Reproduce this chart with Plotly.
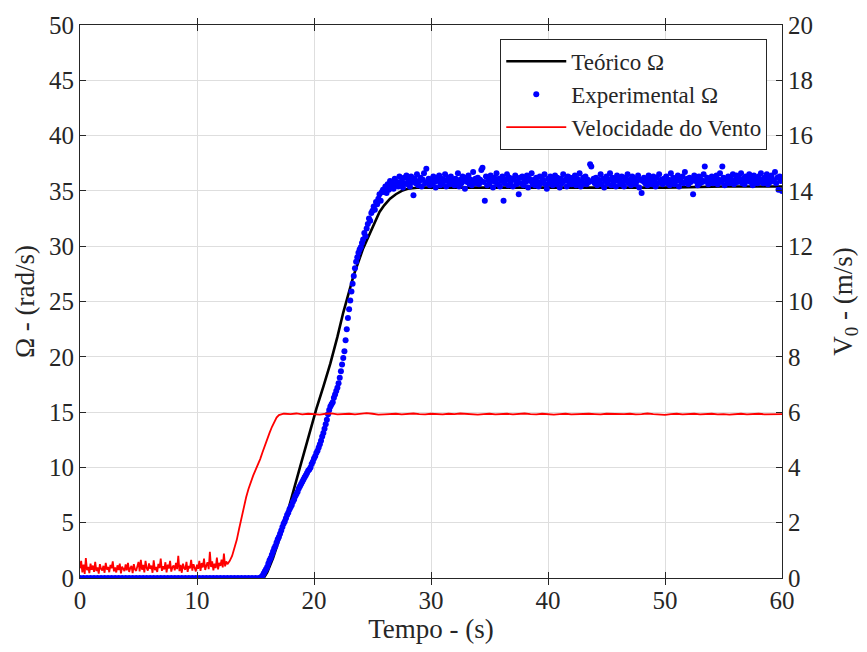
import plotly.graph_objects as go

# ---------------- data ----------------
# Theoretical rotor speed (rad/s)
t_theo = [0, 15.7, 16.0, 16.5, 17.0, 17.7, 18.8, 20.2, 20.8, 21.4, 22.0, 22.5, 23.0, 23.4,
          24.2, 25.1, 25.6, 26.0, 26.5, 27.0, 27.5, 28.0, 29.0, 30, 40, 50, 55, 60]
omega_theo = [0, 0, 0.5, 1.8, 3.4, 5.8, 10.0, 15.3, 17.3, 19.4, 21.8, 24.0, 25.9, 27.4,
              29.8, 31.9, 33.1, 33.7, 34.3, 34.7, 35.0, 35.2, 35.3, 35.3, 35.3, 35.3, 35.4, 35.4]

# Experimental rotor speed (rad/s)
t_exp_idle_start, t_exp_idle_step = 0.0, 0.3
omega_exp_idle = [0.0, 0.0, 0.0, 0.0, 0.0, 0.0, 0.0, 0.0, 0.0, 0.0, 0.0, 0.0, 0.0,
                  0.0, 0.0, 0.0, 0.0, 0.0, 0.0, 0.0, 0.0, 0.0, 0.0, 0.0, 0.0, 0.0,
                  0.0, 0.0, 0.0, 0.0, 0.0, 0.0, 0.0, 0.0, 0.0, 0.0, 0.0, 0.0, 0.0,
                  0.0, 0.0, 0.0, 0.0, 0.0, 0.0, 0.0, 0.0, 0.0, 0.0, 0.0, 0.0, 0.0]
t_exp_ramp_start, t_exp_ramp_step = 15.4, 0.1
omega_exp_ramp = [
    0.0, 0.1, 0.2, 0.4, 0.6, 0.8,
    1.0, 1.3, 1.6, 1.8, 2.1, 2.4, 2.7, 2.9, 3.2, 3.5,
    3.7, 4.0, 4.3, 4.6, 4.9, 5.1, 5.4, 5.7, 5.9, 6.2,
    6.4, 6.6, 6.9, 7.1, 7.4, 7.6, 7.8, 8.1, 8.3, 8.5,
    8.7, 8.9, 9.1, 9.3, 9.5, 9.7, 9.8, 10.0, 10.3, 10.5,
    10.8, 11.0, 11.3, 11.5, 11.8, 12.1, 12.4, 12.8, 13.1, 13.5,
    13.9, 14.3, 14.8, 15.2, 15.5, 15.7, 15.9, 16.3, 16.6, 16.9,
    17.2, 17.6, 18.1, 18.7, 19.3, 19.9, 20.5, 21.5, 22.5, 23.5,
    24.3, 25.1, 25.9, 26.6, 27.3, 28.0, 28.6, 29.0, 29.4, 29.7,
    29.9, 30.3, 30.6, 31.2, 30.9, 31.6, 32.0, 32.5, 32.3, 33.0,
    33.2, 33.6, 33.3, 34.0, 33.8, 34.3, 34.7, 34.1, 34.9, 35.1]
t_exp_steady_start, t_exp_steady_step = 26.0, 0.1
omega_exp_steady = [
    34.9, 35.4, 34.8, 35.6, 35.1, 35.9, 35.3, 35.7, 35.2, 36.1, 35.5, 35.8, 35.4, 36.3, 35.6, 35.9, 35.3, 36.2, 35.7, 36.4,
    35.6, 36.0, 35.4, 36.3, 35.8, 34.6, 36.1, 35.7, 36.5, 35.5, 35.9, 36.2, 35.4, 36.0, 36.6, 35.7, 37.0, 35.8, 36.1, 35.5,
    36.0, 35.6, 36.3, 35.8, 35.3, 36.2, 35.9, 36.4, 35.5, 36.1, 35.7, 36.0, 36.5, 35.4, 35.9, 36.2, 35.6, 36.3, 35.8, 36.0,
    35.5, 36.1, 35.8, 36.6, 35.4, 36.0, 35.7, 36.3, 35.9, 35.2, 36.2, 35.8, 36.4, 35.6, 36.0, 35.5, 36.7, 35.9, 36.1, 35.7,
    36.2, 35.6, 36.0, 36.9, 37.1, 35.8, 34.1, 36.3, 35.5, 36.0, 35.7, 36.4, 35.9, 35.3, 36.2, 35.8, 36.6, 35.6, 36.1, 35.4,
    35.9, 36.3, 34.1, 35.7, 36.0, 36.5, 35.5, 36.2, 35.8, 36.1, 35.4, 36.0, 36.4, 35.6, 35.9, 34.7, 36.2, 35.7, 36.3, 35.5,
    36.0, 35.8, 36.4, 35.3, 36.1, 35.9, 36.6, 35.6, 36.0, 35.5, 36.2, 35.8, 35.4, 36.3, 35.7, 36.1, 35.9, 36.5, 35.6, 35.2,
    36.1, 35.7, 36.3, 35.9, 35.5, 36.0, 36.4, 35.6, 36.2, 35.8, 35.3, 36.1, 35.7, 36.5, 35.9, 36.0, 35.4, 36.3, 35.8, 36.2,
    35.6, 36.0, 35.9, 36.4, 35.5, 36.1, 35.8, 36.6, 35.4, 35.9, 36.2, 35.7, 36.3, 35.6, 36.0, 35.8, 37.4, 37.2, 35.9, 36.1,
    35.7, 36.2, 35.5, 36.0, 35.8, 36.5, 35.6, 36.1, 35.3, 35.9, 36.3, 35.7, 36.0, 36.6, 35.5, 36.2, 35.8, 36.0, 35.4, 36.4,
    35.9, 36.1, 35.6, 36.3, 35.8, 35.4, 36.2, 35.9, 36.5, 35.7, 36.0, 35.5, 36.3, 35.8, 36.1, 35.6, 35.9, 36.4, 35.3, 36.0,
    34.8, 35.9, 36.2, 35.7, 36.0, 35.5, 36.4, 35.8, 36.1, 35.6, 36.3, 35.9, 35.4, 36.2, 35.7, 36.5, 35.8, 36.0, 35.6, 36.1,
    35.9, 36.3, 35.7, 36.0, 35.5, 36.6, 35.8, 36.2, 35.6, 36.1, 35.9, 36.4, 35.4, 36.0, 35.8, 36.3, 35.7, 36.7, 35.9, 36.1,
    35.6, 36.2, 35.8, 36.0, 34.7, 36.4, 35.9, 36.1, 35.5, 36.3, 35.7, 36.0, 35.8, 36.5, 37.2, 35.9, 36.2, 35.6, 36.0, 35.8,
    36.3, 35.7, 36.1, 35.9, 36.4, 35.6, 36.0, 36.6, 35.8, 37.2, 36.2, 35.5, 36.0, 35.9, 36.3, 35.7, 36.1, 35.8, 36.5, 35.6,
    36.0, 36.4, 35.8, 36.2, 35.9, 36.6, 35.7, 36.1, 35.6, 36.3, 35.9, 36.0, 36.5, 35.8, 36.2, 35.5, 36.4, 35.9, 36.1, 35.7,
    36.3, 35.8, 36.6, 36.0, 35.7, 36.2, 35.9, 36.5, 35.6, 36.1, 35.8, 36.4, 36.0, 35.9, 36.7, 35.7, 36.2, 35.1, 36.3, 35.9,
    35.0]

# Wind speed (m/s)
t_wind_idle_start, t_wind_idle_step = 0.0, 0.1
wind_idle = [
    0.35, 0.62, 0.20, 0.48, 0.15, 0.72, 0.28, 0.40, 0.18, 0.52,
    0.30, 0.45, 0.22, 0.58, 0.25, 0.38, 0.16, 0.50, 0.33, 0.27,
    0.44, 0.19, 0.55, 0.30, 0.40, 0.21, 0.47, 0.35, 0.60, 0.24,
    0.38, 0.20, 0.46, 0.29, 0.52, 0.17, 0.41, 0.33, 0.25, 0.49,
    0.28, 0.55, 0.22, 0.36, 0.44, 0.18, 0.50, 0.31, 0.26, 0.42,
    0.58, 0.24, 0.66, 0.30, 0.47, 0.20, 0.62, 0.35, 0.27, 0.53,
    0.33, 0.45, 0.19, 0.64, 0.28, 0.40, 0.22, 0.51, 0.36, 0.70,
    0.26, 0.43, 0.31, 0.57, 0.20, 0.48, 0.34, 0.62, 0.23, 0.39,
    0.45, 0.28, 0.55, 0.32, 0.80, 0.25, 0.47, 0.19, 0.52, 0.36,
    0.30, 0.58, 0.22, 0.44, 0.35, 0.66, 0.27, 0.50, 0.40, 0.24,
    0.48, 0.33, 0.62, 0.26, 0.54, 0.38, 0.70, 0.29, 0.45, 0.57,
    0.32, 0.95, 0.40, 0.60, 0.28, 0.52, 0.36, 0.74, 0.31, 0.55,
    0.44, 0.66, 0.38, 0.88, 0.42, 0.60]
t_wind_ramp_start, t_wind_ramp_step = 12.6, 0.2
wind_ramp = [0.50, 0.62, 0.80, 1.05, 1.38, 1.78, 2.18, 2.56, 2.92, 3.22, 3.48, 3.70, 3.90,
             4.08, 4.30, 4.55, 4.80, 5.02, 5.25, 5.46, 5.65, 5.80, 5.89, 5.93, 5.94]
t_wind_steady_start, t_wind_steady_step = 17.5, 0.5
wind_steady = [
    5.94, 5.93, 5.95, 5.92, 5.94, 5.93, 5.91, 5.94, 5.95, 5.92,
    5.93, 5.94, 5.92, 5.93, 5.96, 5.94, 5.91, 5.92, 5.93, 5.94,
    5.92, 5.93, 5.95, 5.93, 5.92, 5.94, 5.93, 5.92, 5.94, 5.93,
    5.95, 5.93, 5.92, 5.91, 5.93, 5.94, 5.92, 5.93, 5.94, 5.92,
    5.93, 5.95, 5.93, 5.92, 5.94, 5.93, 5.91, 5.93, 5.94, 5.92,
    5.93, 5.92, 5.94, 5.93, 5.92, 5.94, 5.93, 5.92, 5.93, 5.94,
    5.92, 5.93, 5.95, 5.93, 5.92, 5.90, 5.93, 5.94, 5.92, 5.93,
    5.94, 5.92, 5.93, 5.94, 5.92, 5.93, 5.91, 5.93, 5.94, 5.92,
    5.93, 5.94, 5.92, 5.93, 5.94, 5.93]

x_ticks = [0, 10, 20, 30, 40, 50, 60]
y_left_ticks = [0, 5, 10, 15, 20, 25, 30, 35, 40, 45, 50]
y_right_ticks = [0, 2, 4, 6, 8, 10, 12, 14, 16, 18, 20]


def grid(start, step, n):
    return [round(start + i * step, 3) for i in range(n)]


t_exp = (grid(t_exp_idle_start, t_exp_idle_step, len(omega_exp_idle))
         + grid(t_exp_ramp_start, t_exp_ramp_step, len(omega_exp_ramp))
         + grid(t_exp_steady_start, t_exp_steady_step, len(omega_exp_steady)))
omega_exp = omega_exp_idle + omega_exp_ramp + omega_exp_steady

t_wind = (grid(t_wind_idle_start, t_wind_idle_step, len(wind_idle))
          + grid(t_wind_ramp_start, t_wind_ramp_step, len(wind_ramp))
          + grid(t_wind_steady_start, t_wind_steady_step, len(wind_steady)))
wind = wind_idle + wind_ramp + wind_steady

# ---------------- figure ----------------
FONT = "Liberation Serif"
AX = "#262626"
GRID = "#dedede"
TICK_SIZE = 25
TITLE_SIZE = 27
LEG_SIZE = 23

fig = go.Figure()
fig.add_trace(go.Scatter(x=t_theo, y=omega_theo, mode="lines", name="Teórico Ω",
                         line=dict(color="black", width=2.6)))
fig.add_trace(go.Scatter(x=t_exp, y=omega_exp, mode="markers", name="Experimental Ω",
                         marker=dict(color="#0000ff", size=6, line=dict(width=0))))
fig.add_trace(go.Scatter(x=t_wind, y=wind, mode="lines", name="Velocidade do Vento",
                         line=dict(color="#ff0000", width=1.8), yaxis="y2"))

fig.update_layout(
    width=867, height=652,
    margin=dict(l=80, r=85, t=22, b=74),
    paper_bgcolor="white", plot_bgcolor="white",
    font=dict(family=FONT, size=22, color="#262626"),
    showlegend=True,
    legend=dict(x=0.979, y=0.975, xanchor="right", yanchor="top",
                bgcolor="white", bordercolor=AX, borderwidth=1,
                font=dict(family=FONT, size=LEG_SIZE, color="#262626"),
                tracegroupgap=0, itemwidth=60),
    xaxis=dict(range=[0, 60], tickvals=x_ticks, ticks="inside", ticklen=6,
               tickcolor=AX, showline=True, linecolor=AX, linewidth=1,
               mirror="allticks", showgrid=True, gridcolor=GRID, gridwidth=1,
               zeroline=False, tickfont=dict(family=FONT, size=TICK_SIZE),
               title=dict(text="Tempo - (s)", font=dict(family=FONT, size=TITLE_SIZE), standoff=2)),
    yaxis=dict(range=[0, 50], tickvals=y_left_ticks, ticks="inside", ticklen=6,
               tickcolor=AX, showline=True, linecolor=AX, linewidth=1,
               mirror=False, showgrid=True, gridcolor=GRID, gridwidth=1,
               zeroline=False, tickfont=dict(family=FONT, size=TICK_SIZE),
               title=dict(text="Ω - (rad/s)", font=dict(family=FONT, size=TITLE_SIZE), standoff=6)),
    yaxis2=dict(range=[0, 20], tickvals=y_right_ticks, ticks="inside", ticklen=6,
                tickcolor=AX, showline=True, linecolor=AX, linewidth=1,
                overlaying="y", side="right", showgrid=False, zeroline=False,
                tickfont=dict(family=FONT, size=TICK_SIZE),
                title=dict(text="V<sub>0</sub> - (m/s)", font=dict(family=FONT, size=TITLE_SIZE), standoff=20)),
)

fig.write_html("out.html")
